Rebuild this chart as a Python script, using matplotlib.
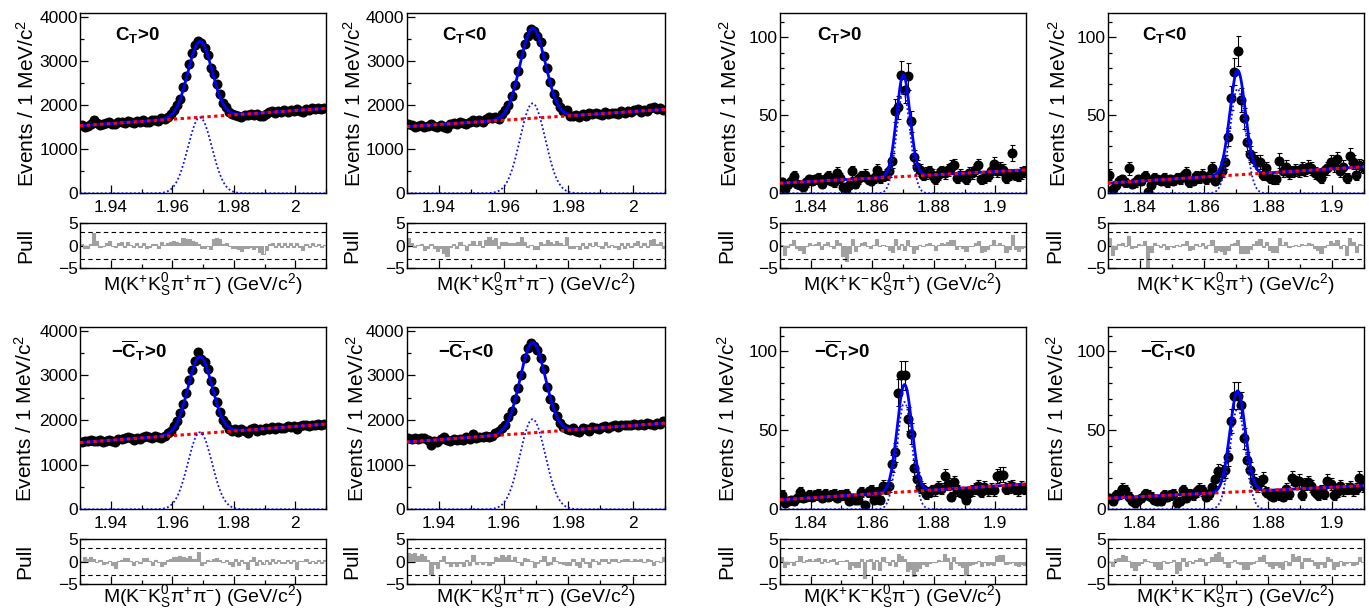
import numpy as np
import matplotlib
matplotlib.use('Agg')
import matplotlib.pyplot as plt
from matplotlib.ticker import MultipleLocator, FixedLocator, NullFormatter

plt.rcParams['font.family'] = ['Liberation Sans', 'DejaVu Sans']
plt.rcParams['mathtext.fontset'] = 'custom'
plt.rcParams['mathtext.rm'] = 'Liberation Sans'
plt.rcParams['mathtext.it'] = 'Liberation Sans:italic'
plt.rcParams['mathtext.bf'] = 'Liberation Sans:bold'
plt.rcParams['mathtext.sf'] = 'Liberation Sans'
plt.rcParams['mathtext.default'] = 'regular'

# ---------------- data (events per 1 MeV bin, 80 bins) ----------------
ds_range = (1.93, 2.01)
dp_range = (1.83, 1.91)

ds_ct_pos = [1547, 1512, 1525, 1560, 1662, 1600, 1545, 1560, 1590, 1620,
             1575, 1570, 1610, 1625, 1590, 1640, 1615, 1600, 1640, 1610,
             1650, 1615, 1625, 1660, 1665, 1640, 1700, 1690, 1740, 1800,
             1880, 1990, 2140, 2410, 2660, 2930, 3170, 3360, 3440, 3400,
             3300, 3130, 2850, 2700, 2470, 2250, 2050, 1950, 1850, 1800,
             1780, 1760, 1740, 1770, 1775, 1790, 1780, 1800, 1760, 1745,
             1790, 1850, 1860, 1830, 1870, 1840, 1880, 1850, 1890, 1860,
             1900, 1870, 1850, 1910, 1880, 1930, 1900, 1925, 1905, 1925]

ds_ct_neg = [1580, 1540, 1510, 1530, 1545, 1500, 1520, 1560, 1530, 1510,
             1540, 1500, 1480, 1560, 1590, 1560, 1620, 1600, 1560, 1620,
             1650, 1620, 1660, 1610, 1680, 1720, 1700, 1740, 1680, 1790,
             1880, 2010, 2200, 2450, 2760, 3150, 3390, 3560, 3720, 3680,
             3560, 3420, 3100, 2830, 2520, 2260, 2100, 1960, 1860, 1890,
             1760, 1750, 1770, 1740, 1800, 1760, 1810, 1790, 1830, 1800,
             1780, 1840, 1800, 1830, 1810, 1800, 1860, 1820, 1870, 1840,
             1880, 1900, 1850, 1890, 1860, 1930, 1950, 1900, 1930, 1880]

dp_ct_pos = [7, 3, 6, 8, 11, 6, 5, 4, 7, 9,
             8, 9, 10, 6, 9, 11, 8, 7, 13, 10,
             4, 3, 5, 14, 6, 9, 11, 12, 9, 8,
             10, 15, 10, 11, 12, 14, 21, 53, 55, 76,
             66, 75, 46, 23, 17, 15, 12, 13, 14, 12,
             9, 12, 14, 13, 15, 17, 18, 10, 12, 11,
             9, 13, 13, 15, 18, 9, 10, 11, 14, 19,
             14, 16, 15, 10, 12, 26, 12, 11, 13, 14]

dp_ct_neg = [12, 3, 5, 8, 9, 7, 16, 6, 7, 9,
             8, 11, 1, 5, 10, 9, 8, 10, 7, 9,
             8, 10, 9, 11, 13, 7, 8, 11, 10, 12,
             9, 11, 16, 8, 11, 14, 20, 36, 61, 78,
             91, 60, 48, 33, 25, 22, 20, 20, 12, 16,
             10, 9, 9, 21, 14, 17, 13, 14, 15, 14,
             16, 15, 17, 16, 13, 12, 10, 14, 16, 20,
             18, 22, 14, 17, 10, 24, 20, 12, 18, 17]

ds_cbt_pos = [1500, 1540, 1530, 1550, 1540, 1520, 1545, 1510, 1530, 1550,
              1520, 1500, 1570, 1580, 1600, 1610, 1590, 1560, 1600, 1580,
              1630, 1640, 1620, 1590, 1640, 1630, 1600, 1640, 1700, 1760,
              1860, 1980, 2150, 2360, 2600, 2900, 3120, 3330, 3530, 3370,
              3290, 3140, 2880, 2640, 2400, 2180, 2000, 1920, 1810, 1760,
              1800, 1740, 1790, 1760, 1710, 1800, 1830, 1760, 1810, 1780,
              1820, 1790, 1840, 1810, 1850, 1820, 1830, 1860, 1840, 1870,
              1790, 1870, 1880, 1900, 1870, 1890, 1880, 1910, 1890, 1920]

ds_cbt_neg = [1590, 1580, 1600, 1575, 1600, 1590, 1560, 1445, 1530, 1500,
              1580, 1620, 1560, 1540, 1570, 1550, 1580, 1560, 1620, 1580,
              1680, 1600, 1620, 1610, 1640, 1620, 1650, 1720, 1750, 1830,
              1900, 2060, 2200, 2480, 2720, 3000, 3400, 3620, 3720, 3650,
              3580, 3400, 3150, 2740, 2470, 2300, 2080, 1930, 1850, 1790,
              1770, 1820, 1760, 1740, 1830, 1790, 1760, 1840, 1820, 1800,
              1850, 1860, 1830, 1870, 1880, 1850, 1880, 1890, 1900, 1880,
              1910, 1900, 1920, 1890, 1930, 1920, 1880, 1930, 1920, 1980]

dp_cbt_pos = [9, 4, 5, 6, 5, 7, 11, 7, 8, 9,
              8, 9, 10, 7, 10, 8, 9, 10, 7, 9,
              9, 10, 5, 7, 6, 6, 11, 3, 11, 12,
              6, 11, 6, 15, 13, 15, 29, 36, 74, 85,
              85, 57, 48, 26, 19, 14, 13, 10, 11, 12,
              12, 14, 13, 21, 16, 8, 17, 12, 11, 10,
              6, 11, 12, 13, 15, 11, 14, 12, 13, 12,
              21, 22, 22, 13, 14, 15, 13, 12, 14, 13]

dp_cbt_neg = [7, 5, 9, 10, 13, 12, 8, 5, 4, 6,
              7, 10, 9, 8, 6, 5, 5, 9, 8, 9,
              10, 4, 5, 12, 7, 10, 9, 11, 13, 12,
              8, 10, 14, 19, 24, 23, 25, 33, 56, 72,
              72, 66, 45, 31, 25, 18, 15, 17, 19, 11,
              9, 8, 10, 9, 8, 13, 10, 20, 17, 18,
              9, 16, 17, 15, 11, 9, 12, 10, 18, 16,
              9, 11, 15, 12, 13, 14, 12, 13, 20, 15]

# fit parameters: peak mean (GeV), sigma (GeV),
# signal amplitude, background at left / right edge
fit_mean = [1.9690, 1.9690, 1.8701, 1.8705, 1.9690, 1.9690, 1.8705, 1.8705]
fit_sigma = [0.0039, 0.0039, 0.0022, 0.0024, 0.0039, 0.0039, 0.0024, 0.0024]
fit_amp = [1720, 2037, 65, 67, 1725, 2020, 68, 64]
fit_bkg_lo = [1530, 1509, 6.5, 6.5, 1495, 1508, 6.0, 7.0]
fit_bkg_hi = [1925, 1902, 15.0, 17.0, 1910, 1932, 16.0, 15.0]

panel_data = [ds_ct_pos, ds_ct_neg, dp_ct_pos, dp_ct_neg,
              ds_cbt_pos, ds_cbt_neg, dp_cbt_pos, dp_cbt_neg]
panel_is_ds = [True, True, False, False, True, True, False, False]
tag_ct = r'C$_{\mathbf{T}}$'
tag_cbt = r'$-\overline{\mathbf{C}}_{\mathbf{T}}$'
panel_tags = [tag_ct + '>0', tag_ct + '<0', tag_ct + '>0', tag_ct + '<0',
              tag_cbt + '>0', tag_cbt + '<0', tag_cbt + '>0', tag_cbt + '<0']
panel_xlabels = [r'M(K$^{+}$K$^{0}_{S}\pi^{+}\pi^{-}$) (GeV/c$^{2}$)',
                 r'M(K$^{+}$K$^{0}_{S}\pi^{+}\pi^{-}$) (GeV/c$^{2}$)',
                 r'M(K$^{+}$K$^{-}$K$^{0}_{S}\pi^{+}$) (GeV/c$^{2}$)',
                 r'M(K$^{+}$K$^{-}$K$^{0}_{S}\pi^{+}$) (GeV/c$^{2}$)',
                 r'M(K$^{-}$K$^{0}_{S}\pi^{+}\pi^{-}$) (GeV/c$^{2}$)',
                 r'M(K$^{-}$K$^{0}_{S}\pi^{+}\pi^{-}$) (GeV/c$^{2}$)',
                 r'M(K$^{+}$K$^{-}$K$^{0}_{S}\pi^{-}$) (GeV/c$^{2}$)',
                 r'M(K$^{+}$K$^{-}$K$^{0}_{S}\pi^{-}$) (GeV/c$^{2}$)']
ds_xticks = [1.94, 1.96, 1.98, 2.00]
ds_xticklabels = ['1.94', '1.96', '1.98', '2']
dp_xticks = [1.84, 1.86, 1.88, 1.90]
dp_xticklabels = ['1.84', '1.86', '1.88', '1.9']
ylabel = r'Events / 1 MeV/c$^{2}$'

# ---------------- layout (pixels) ----------------
W, H = 1369, 616
fig = plt.figure(figsize=(W / 100, H / 100), dpi=100)

cols = [(80, 326), (406.7, 665), (780, 1026), (1107.7, 1364.3)]
rows_main = [(13, 193.3), (327, 509.3)]
rows_pull = [(222.7, 268.3), (539.3, 584)]
ylab_x = [[26.7, 354, 730, 1059], [25, 356.7, 728, 1056.7]]
pull_x = [[26, 352, 727, 1055], [25, 352, 727, 1055]]
xlab_y = [285, 596.7]


def fax(x0, x1, y0, y1):
    return fig.add_axes([x0 / W, 1 - y1 / H, (x1 - x0) / W, (y1 - y0) / H])


def style(ax):
    ax.tick_params(which='both', direction='in', top=False, right=False,
                   labelsize=12.5, width=0.9)
    ax.tick_params(which='major', length=5.5)
    ax.tick_params(which='minor', length=2.8)
    ax.tick_params(axis='y', pad=1.5)
    ax.tick_params(axis='x', pad=5)
    for s in ax.spines.values():
        s.set_linewidth(1.0)


for k in range(8):
    r, c = divmod(k, 4)
    is_ds = panel_is_ds[k]
    lo, hi = ds_range if is_ds else dp_range
    data = np.array(panel_data[k], dtype=float)
    nb = len(data)
    edges = np.linspace(lo, hi, nb + 1)
    centers = 0.5 * (edges[:-1] + edges[1:])

    def bkg(x):
        return fit_bkg_lo[k] + (fit_bkg_hi[k] - fit_bkg_lo[k]) * (x - lo) / (hi - lo)

    def sig(x):
        return fit_amp[k] * np.exp(-0.5 * ((x - fit_mean[k]) / fit_sigma[k]) ** 2)

    xf = np.linspace(lo, hi, 1601)
    x0, x1 = cols[c]
    y0, y1 = rows_main[r]
    ax = fax(x0, x1, y0, y1)
    style(ax)
    err = np.sqrt(np.maximum(data, 1))
    ax.errorbar(centers, data, yerr=err, fmt='o', color='black', ms=6.2,
                elinewidth=0.8, capsize=1.8, capthick=0.8, zorder=2)
    ax.plot(xf, bkg(xf) + sig(xf), color='#0000ff', lw=2.0, zorder=3)
    ax.plot(xf, bkg(xf), color='#ff0000', lw=2.2, ls=(0, (1.1, 1.1)), zorder=4)
    ax.plot(xf, sig(xf), color='#1010ff', lw=1.3, ls=(0, (1.0, 1.3)), zorder=4)
    ax.set_xlim(lo, hi)
    if is_ds:
        ax.set_ylim(0, 4085)
        ax.yaxis.set_major_locator(FixedLocator([0, 1000, 2000, 3000, 4000]))
        ax.yaxis.set_minor_locator(MultipleLocator(500))
        ax.set_xticks(ds_xticks)
        ax.set_xticklabels(ds_xticklabels)
    else:
        ax.set_ylim(0, 115.5)
        ax.yaxis.set_major_locator(FixedLocator([0, 50, 100]))
        ax.yaxis.set_minor_locator(MultipleLocator(10))
        ax.set_xticks(dp_xticks)
        ax.set_xticklabels(dp_xticklabels)
    ax.xaxis.set_minor_locator(MultipleLocator(0.01))
    tx = [0.142, 0.135, 0.149, 0.132][c] if r == 0 else [0.125, 0.122, 0.138, 0.125][c]
    ty = 0.85 if r == 0 else 0.828
    ax.text(tx, ty, panel_tags[k], transform=ax.transAxes, fontsize=13.5,
            fontweight='bold', ha='left', va='baseline')
    fig.text(ylab_x[r][c] / W, 1 - (y0 + y1) / 2 / H, ylabel, rotation=90,
             ha='center', va='center', fontsize=15)

    # pull panel
    fit_c = bkg(centers) + sig(centers)
    pulls = (data - fit_c) / err
    py0, py1 = rows_pull[r]
    pa = fax(x0, x1, py0, py1)
    style(pa)
    pa.bar(centers, pulls, width=(hi - lo) / nb, color='#a0a0a0', linewidth=0,
           align='center', zorder=2)
    pa.step(edges, np.r_[pulls, pulls[-1]], where='post', color='#a0a0a0', lw=0.8, zorder=2)
    pa.axhline(3, color='black', lw=0.8, ls=(0, (4, 3)), zorder=3)
    pa.axhline(-3, color='black', lw=0.8, ls=(0, (4, 3)), zorder=3)
    pa.set_xlim(lo, hi)
    pa.set_ylim(-5, 5)
    pa.set_yticks([-5, 0, 5])
    pa.set_yticklabels(['\u22125', '0', '5'])
    pa.set_xticks(ds_xticks if is_ds else dp_xticks)
    pa.xaxis.set_minor_locator(MultipleLocator(0.01))
    pa.xaxis.set_major_formatter(NullFormatter())
    fig.text(pull_x[r][c] / W, 1 - (py0 + py1) / 2 / H, 'Pull', rotation=90,
             ha='center', va='center', fontsize=15)
    fig.text((x0 + x1) / 2 / W, 1 - xlab_y[r] / H, panel_xlabels[k],
             ha='center', va='center', fontsize=14)

fig.savefig('out.png', dpi=100)
